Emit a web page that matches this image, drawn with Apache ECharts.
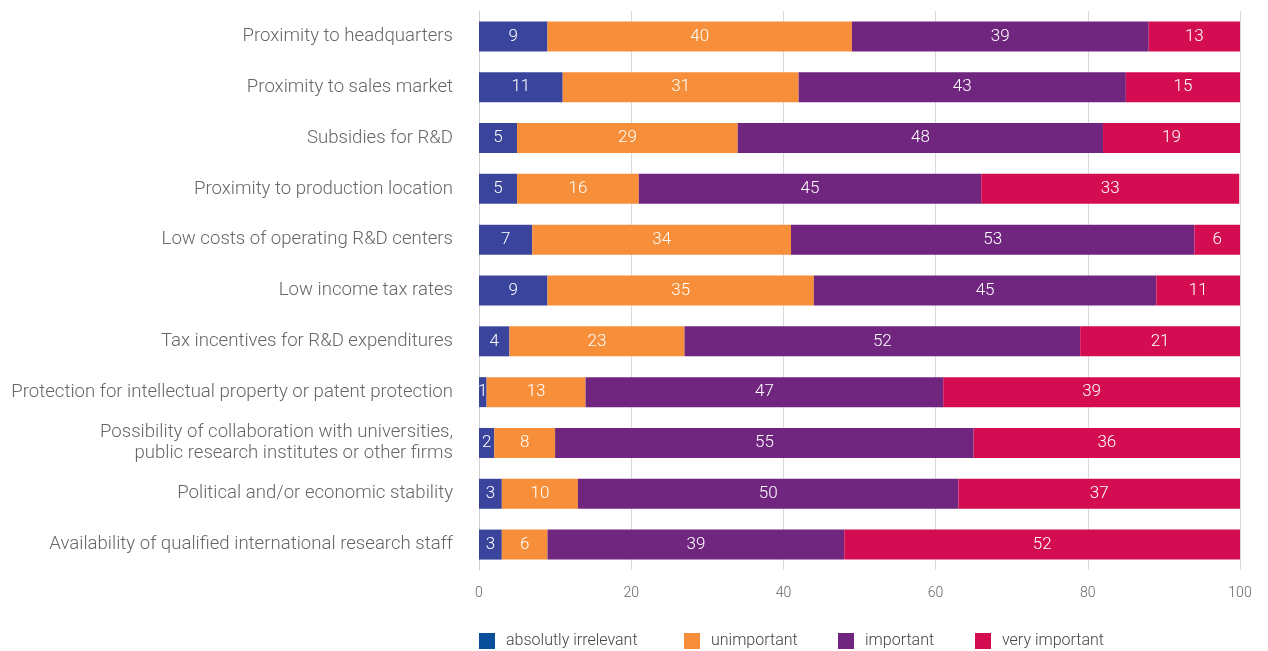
<!DOCTYPE html>
<html><head><meta charset="utf-8">
<script src="https://cdn.jsdelivr.net/npm/echarts@6/dist/echarts.min.js"></script>
<style>html,body{margin:0;padding:0;background:#fff}#c{width:1268px;height:651px}</style>
</head><body><div id="c"></div>
<script>
const categories = [
  "Proximity to headquarters",
  "Proximity to sales market",
  "Subsidies for R&D",
  "Proximity to production location",
  "Low costs of operating R&D centers",
  "Low income tax rates",
  "Tax incentives for R&D expenditures",
  "Protection for intellectual property or patent protection",
  "Possibility of collaboration with universities,\npublic research institutes or other firms",
  "Political and/or economic stability",
  "Availability of qualified international research staff"
];
const irrelevant = [9, 11, 5, 5, 7, 9, 4, 1, 2, 3, 3];
const unimportant = [40, 31, 29, 16, 34, 35, 23, 13, 8, 10, 6];
const important = [39, 43, 48, 45, 53, 45, 52, 47, 55, 50, 39];
const veryImportant = [13, 15, 19, 33.9, 6, 11, 21, 39, 36, 37, 52];
const seriesNames = ["absolutly irrelevant", "unimportant", "important", "very important"];
const xTicks = [0, 20, 40, 60, 80, 100];

const colors = ["#3A449C", "#F78F3A", "#70267F", "#D40C52"];
const legendColors = ["#0A4F9C", "#F78F3A", "#70267F", "#D40C52"];
const legendLefts = [479, 684, 838, 975];
const font = "Roboto";
const dataSets = [irrelevant, unimportant, important, veryImportant];

const chart = echarts.init(document.getElementById('c'));
chart.setOption({
  animation: false,
  textStyle: { fontFamily: font },
  grid: { left: 479, right: 28, top: 11, bottom: 81, containLabel: false },
  legend: seriesNames.map((n, i) => ({
    top: 633, left: legendLefts[i], padding: 0,
    itemWidth: 16, itemHeight: 16,
    icon: 'rect', selectedMode: false,
    textStyle: { fontFamily: font, fontSize: 16, fontWeight: 300, color: '#444', padding: [6, 0, 0, 6] },
    data: [{ name: n, itemStyle: { color: legendColors[i] } }]
  })),
  xAxis: {
    type: 'value', min: 0, max: 100, interval: 20,
    axisLine: { show: false }, axisTick: { show: false },
    splitLine: { lineStyle: { color: '#dadada', width: 1 } },
    axisLabel: { fontFamily: font, fontSize: 14, fontWeight: 300, color: '#666', margin: 16,
      formatter: v => xTicks.includes(v) ? String(v) : '' }
  },
  yAxis: {
    type: 'category', inverse: true, data: categories,
    axisLine: { show: true, lineStyle: { color: '#cfcfcf' } },
    axisTick: { show: false },
    axisLabel: { fontFamily: font, fontSize: 18.6, fontWeight: 300, color: '#666', margin: 26, lineHeight: 21, align: 'right', padding: [3, 0, 0, 0] }
  },
  series: dataSets.map((d, i) => ({
    name: seriesNames[i], type: 'bar', stack: 'total', data: d, barWidth: 30,
    itemStyle: { color: colors[i] },
    label: { show: true, position: 'inside', color: '#fff', fontFamily: font, fontSize: 17, fontWeight: 300,
      padding: [2, 0, 0, 0],
      formatter: p => String(Math.floor(p.value)) }
  }))
});
</script></body></html>
